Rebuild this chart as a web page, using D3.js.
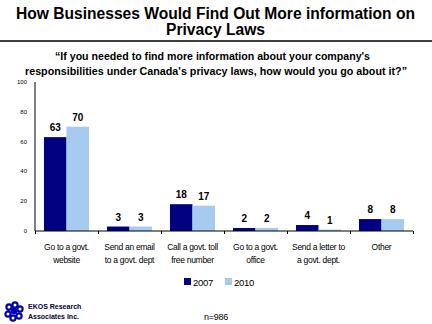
<!DOCTYPE html>
<html>
<head>
<meta charset="utf-8">
<script src="https://cdn.jsdelivr.net/npm/d3@7"></script>
<style>
  body { margin: 0; background: #fff; }
  svg { display: block; font-family: "Liberation Sans", Arial, sans-serif; }
</style>
</head>
<body>
<div class="chart"></div>
<script>
// Privacy info sources, 2007 vs 2010
let categories = [
  ["Go to a govt.", "website"],
  ["Send an email", "to a govt. dept"],
  ["Call a govt. toll", "free number"],
  ["Go to a govt.", "office"],
  ["Send a letter to", "a govt. dept."],
  ["Other"]
];
let years = ["2007", "2010"];
let values2007 = [63, 3, 18, 2, 4, 8];
let values2010 = [70, 3, 17, 2, 1, 8];
let yTicks = [0, 20, 40, 60, 80, 100];

let colors = {"2007": "#000080", "2010": "#a6caf0"};

let svgWidth = 432;
let svgHeight = 324;

let svg = d3.select(".chart")
  .append("svg")
  .attr("width", svgWidth)
  .attr("height", svgHeight);

// helper for centred lines squeezed to a given width
function fitLine(sel, cx, yy, len, txt) {
  sel.append("tspan")
    .attr("x", cx - len / 2)
    .attr("y", yy)
    .attr("textLength", len)
    .attr("lengthAdjust", "spacingAndGlyphs")
    .text(txt);
}

// title block
let title = svg.append("text")
  .attr("font-weight", "bold")
  .attr("font-size", "16px")
  .attr("fill", "#000");
fitLine(title, 215.5, 19, 399, "How Businesses Would Find Out More information on");
fitLine(title, 215.5, 35, 99, "Privacy Laws");

svg.append("line")
  .attr("x1", 0).attr("x2", svgWidth)
  .attr("y1", 41).attr("y2", 41)
  .attr("stroke", "#000")
  .attr("stroke-width", 1.5);

let question = svg.append("text")
  .attr("font-weight", "bold")
  .attr("font-size", "11px");
fitLine(question, 212.5, 60, 315, "\u201CIf you needed to find more information about your company's");
fitLine(question, 216, 75, 382, "responsibilities under Canada's privacy laws, how would you go about it?\u201D");

// chart area
let margin = {left: 35, right: 19, top: 82, bottom: 93};
let width = svgWidth - margin.left - margin.right;
let height = svgHeight - margin.top - margin.bottom;

let chartGroup = svg.append("g")
  .attr("transform", `translate(${margin.left}, ${margin.top})`);

let x0 = d3.scaleBand()
  .domain(d3.range(categories.length))
  .range([0, width])
  .paddingInner(0.285)
  .paddingOuter(0.1425);

let x1 = d3.scaleBand()
  .domain(years)
  .range([0, x0.bandwidth()]);

let y = d3.scaleLinear()
  .domain([0, 100])
  .range([height, 0]);

// y axis: line and labels, no ticks
chartGroup.append("line")
  .attr("x1", 0).attr("x2", 0)
  .attr("y1", y(100)).attr("y2", y(0))
  .attr("stroke", "#000");

chartGroup.selectAll(".ylab")
  .data(yTicks)
  .enter()
  .append("text")
  .attr("class", "ylab")
  .attr("x", -8)
  .attr("y", d => y(d) + 2)
  .attr("text-anchor", "end")
  .attr("font-size", "6px")
  .text(d => d);

let rows = categories.map((c, i) => ({i: i, label: c, "2007": values2007[i], "2010": values2010[i]}));

let groups = chartGroup.selectAll(".cat")
  .data(rows)
  .enter()
  .append("g")
  .attr("class", "cat")
  .attr("transform", d => `translate(${x0(d.i)}, 0)`);

groups.selectAll("rect")
  .data(d => years.map(k => ({key: k, value: d[k]})))
  .enter()
  .append("rect")
  .attr("x", d => x1(d.key))
  .attr("y", d => y(d.value))
  .attr("width", x1.bandwidth())
  .attr("height", d => height - y(d.value))
  .attr("fill", d => colors[d.key]);

groups.selectAll(".val")
  .data(d => years.map(k => ({key: k, value: d[k]})))
  .enter()
  .append("text")
  .attr("class", "val")
  .attr("x", d => x1(d.key) + x1.bandwidth() / 2)
  .attr("y", d => y(d.value) - 6)
  .attr("text-anchor", "middle")
  .attr("font-weight", "bold")
  .attr("font-size", "10px")
  .text(d => d.value);

// x axis with ticks between categories
let bottomAxis = d3.axisBottom(d3.scaleLinear().domain([0, categories.length]).range([0, width]))
  .tickValues(d3.range(categories.length + 1))
  .tickSize(3)
  .tickFormat("");

let xAxis = chartGroup.append("g")
  .attr("transform", `translate(0, ${height})`)
  .call(bottomAxis);
xAxis.select(".domain").attr("stroke", "#000").attr("d", `M0,0H${width}`);
xAxis.selectAll(".tick line").attr("stroke", "#000");

let catLabels = chartGroup.selectAll(".xlab")
  .data(rows)
  .enter()
  .append("text")
  .attr("class", "xlab")
  .attr("text-anchor", "middle")
  .attr("font-size", "8.5px")
  .attr("letter-spacing", "-0.3px");

catLabels.selectAll("tspan")
  .data(d => d.label.map(t => ({t: t, x: x0(d.i) + x0.bandwidth() / 2})))
  .enter()
  .append("tspan")
  .attr("x", d => d.x)
  .attr("y", (d, i) => height + 19 + i * 13)
  .text(d => d.t);

// legend
let legend = svg.append("g")
  .attr("transform", "translate(184, 278)");

let legendItems = legend.selectAll("g")
  .data(years)
  .enter()
  .append("g")
  .attr("transform", (d, i) => `translate(${i * 41}, 0)`);

legendItems.append("rect")
  .attr("width", 7)
  .attr("height", 7)
  .attr("fill", d => colors[d]);

legendItems.append("text")
  .attr("x", 9)
  .attr("y", 7.5)
  .attr("font-size", "9.5px")
  .attr("letter-spacing", "-0.3px")
  .text(d => d);

// footer: logo and sample size
let logo = svg.append("g")
  .attr("transform", "translate(14, 311)")
  .attr("fill", "none")
  .attr("stroke", "#0000b0")
  .attr("stroke-width", 2.2);
[[-5, -4], [1, -6], [6, -2], [5, 5], [-1, 7], [-6, 3]].forEach(p => {
  logo.append("circle").attr("cx", p[0]).attr("cy", p[1]).attr("r", 2.6);
});
logo.append("circle").attr("r", 3.2).attr("fill", "#0000b0").attr("stroke", "none");

let brand = svg.append("text")
  .attr("font-weight", "bold")
  .attr("font-size", "7px")
  .attr("fill", "#000040");
brand.append("tspan").attr("x", 28).attr("y", 309).text("EKOS Research");
brand.append("tspan").attr("x", 28).attr("y", 319).text("Associates Inc.");

svg.append("text")
  .attr("x", 216)
  .attr("y", 320)
  .attr("text-anchor", "middle")
  .attr("font-size", "9px")
  .attr("letter-spacing", "-0.3px")
  .text("n=986");
</script>
</body>
</html>
